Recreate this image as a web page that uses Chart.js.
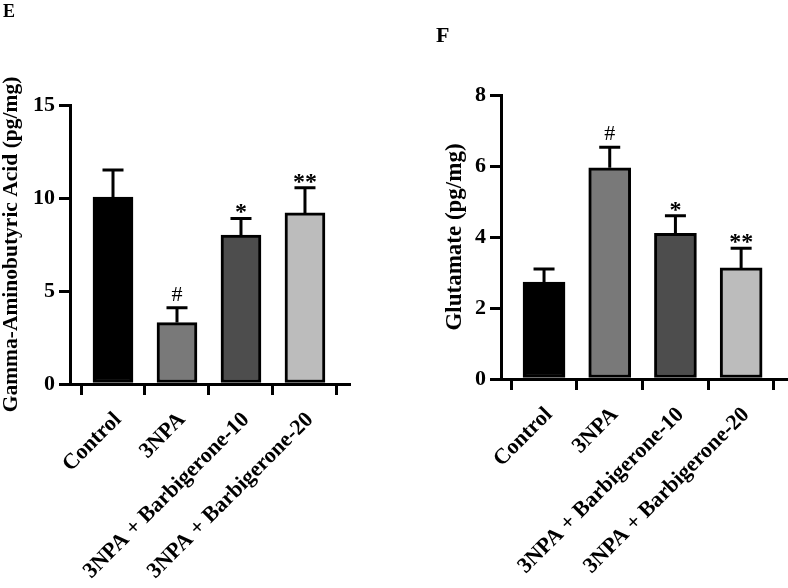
<!DOCTYPE html>
<html>
<head>
<meta charset="utf-8">
<script src="https://cdn.jsdelivr.net/npm/chart.js@4/dist/chart.umd.min.js"></script>
<style>
  html, body { margin: 0; padding: 0; background: #fff; }
  #wrap { position: relative; width: 788px; height: 588px; overflow: hidden; background: #fff; }
  .panel { position: absolute; top: 0; width: 394px; height: 588px; }
  .letter { position: absolute; font-family: 'Liberation Serif', serif; font-weight: bold; line-height: 1; color: #000; }
</style>
</head>
<body>
<div id="wrap">
  <div class="panel" style="left:0"><canvas id="cE" width="394" height="588"></canvas></div>
  <div class="panel" style="left:394px"><canvas id="cF" width="394" height="588"></canvas></div>
  <div class="letter" style="left:3px; top:2px; font-size:18px;">E</div>
  <div class="letter" style="left:436px; top:24px; font-size:22px;">F</div>
</div>
<script>
// ---- data ----
const categories = ['Control', '3NPA', '3NPA + Barbigerone-10', '3NPA + Barbigerone-20'];
const barColors = ['#000000', '#797979', '#4d4d4d', '#bcbcbc'];

const gabaMean = [10.05, 3.3, 8.0, 9.2];
const gabaErr = [1.45, 0.8, 0.9, 1.35];
const gabaSig = ['', '#', '*', '**'];
const gabaTicks = [0, 5, 10, 15];

const gluMean = [2.73, 5.95, 4.1, 3.13];
const gluErr = [0.37, 0.58, 0.5, 0.55];
const gluSig = ['', '#', '*', '**'];
const gluTicks = [0, 2, 4, 6, 8];

const FONT = "'Liberation Serif', 'Times New Roman', serif";
Chart.defaults.font.family = FONT;
Chart.defaults.color = '#000';

// error bars + significance markers drawn through the chart scales
const errorPlugin = {
  id: 'errorBars',
  afterDatasetsDraw(chart, args, opts) {
    const ctx = chart.ctx;
    const xs = chart.scales.x, ys = chart.scales.y;
    ctx.save();
    ctx.strokeStyle = '#000';
    ctx.lineWidth = 3;
    ctx.lineCap = 'butt';
    opts.mean.forEach((m, i) => {
      const x = xs.getPixelForValue(i);
      const y0 = ys.getPixelForValue(m);
      const y1 = ys.getPixelForValue(m + opts.err[i]);
      ctx.beginPath();
      ctx.moveTo(x, y0);
      ctx.lineTo(x, y1);
      ctx.moveTo(x - 10.5, y1);
      ctx.lineTo(x + 10.5, y1);
      ctx.stroke();
      const s = opts.sig[i];
      if (s) {
        ctx.fillStyle = '#000';
        ctx.textAlign = 'center';
        ctx.textBaseline = 'alphabetic';
        if (s === '#') {
          ctx.font = 'normal 22px ' + FONT;
          ctx.fillText(s, x, y1 - 7);
        } else {
          ctx.font = 'bold 24px ' + FONT;
          ctx.fillText(s, x, y1 + 1);
        }
      }
    });
    ctx.restore();
  }
};

function makeChart(id, mean, err, sig, yTicks, yTitle, cfg) {
  return new Chart(document.getElementById(id), {
    type: 'bar',
    data: {
      datasets: [{
        data: mean.map((v, i) => ({ x: i, y: v })),
        backgroundColor: barColors,
        borderColor: '#000',
        borderWidth: 3,
        borderSkipped: false,
        barThickness: cfg.barW
      }]
    },
    options: {
      responsive: false,
      animation: false,
      events: [],
      layout: { padding: { top: cfg.top, right: cfg.right, left: cfg.left, bottom: 0 } },
      plugins: {
        legend: { display: false },
        tooltip: { enabled: false },
        errorBars: { mean: mean, err: err, sig: sig }
      },
      scales: {
        x: {
          type: 'linear',
          min: cfg.xMin,
          max: cfg.xMax,
          offset: false,
          grid: { display: true, drawOnChartArea: false, drawTicks: true, tickLength: 11, color: '#000', lineWidth: 3 },
          border: { display: true, color: '#000', width: 3 },
          ticks: {
            stepSize: 1,
            includeBounds: false,
            autoSkip: false,
            minRotation: 45,
            maxRotation: 45,
            padding: 12,
            labelOffset: 5,
            font: { size: 22, weight: 'bold', family: FONT },
            color: '#000',
            callback: (v) => (Number.isInteger(v) && categories[v] !== undefined) ? categories[v] : ''
          },
          afterFit(scale) {
            scale.height = cfg.xH;
            scale.paddingLeft = 0; scale.paddingRight = 0;
          }
        },
        y: {
          min: 0,
          max: yTicks[yTicks.length - 1],
          grid: { display: true, drawOnChartArea: false, drawTicks: true, tickLength: 11, color: '#000', lineWidth: 3 },
          border: { display: true, color: '#000', width: 3 },
          afterBuildTicks(scale) { scale.ticks = yTicks.map(v => ({ value: v })); },
          ticks: {
            padding: 4,
            font: { size: 22, weight: 'bold', family: FONT },
            color: '#000'
          },
          title: {
            display: true,
            text: yTitle,
            color: '#000',
            font: { size: cfg.titleSize, weight: 'bold', family: FONT, lineHeight: 1.1 },
            padding: { top: 0, bottom: 0 }
          },
          afterFit(scale) {
            scale.width = cfg.yW;
            scale.paddingTop = 0; scale.paddingBottom = 0;
          }
        }
      }
    },
    plugins: [errorPlugin]
  });
}

makeChart('cE', gabaMean, gabaErr, gabaSig, gabaTicks, 'Gamma-Aminobutyric Acid (pg/mg)', {
  top: 105, right: 45, left: 0, xH: 204, yW: 70, barW: 40, titleSize: 21.5,
  xMin: -0.672, xMax: 3.688
});
makeChart('cF', gluMean, gluErr, gluSig, gluTicks, 'Glutamate (pg/mg)', {
  top: 95, right: 2, left: 48, xH: 209, yW: 59, barW: 42, titleSize: 23,
  xMin: -0.655, xMax: 3.683
});
</script>
</body>
</html>
